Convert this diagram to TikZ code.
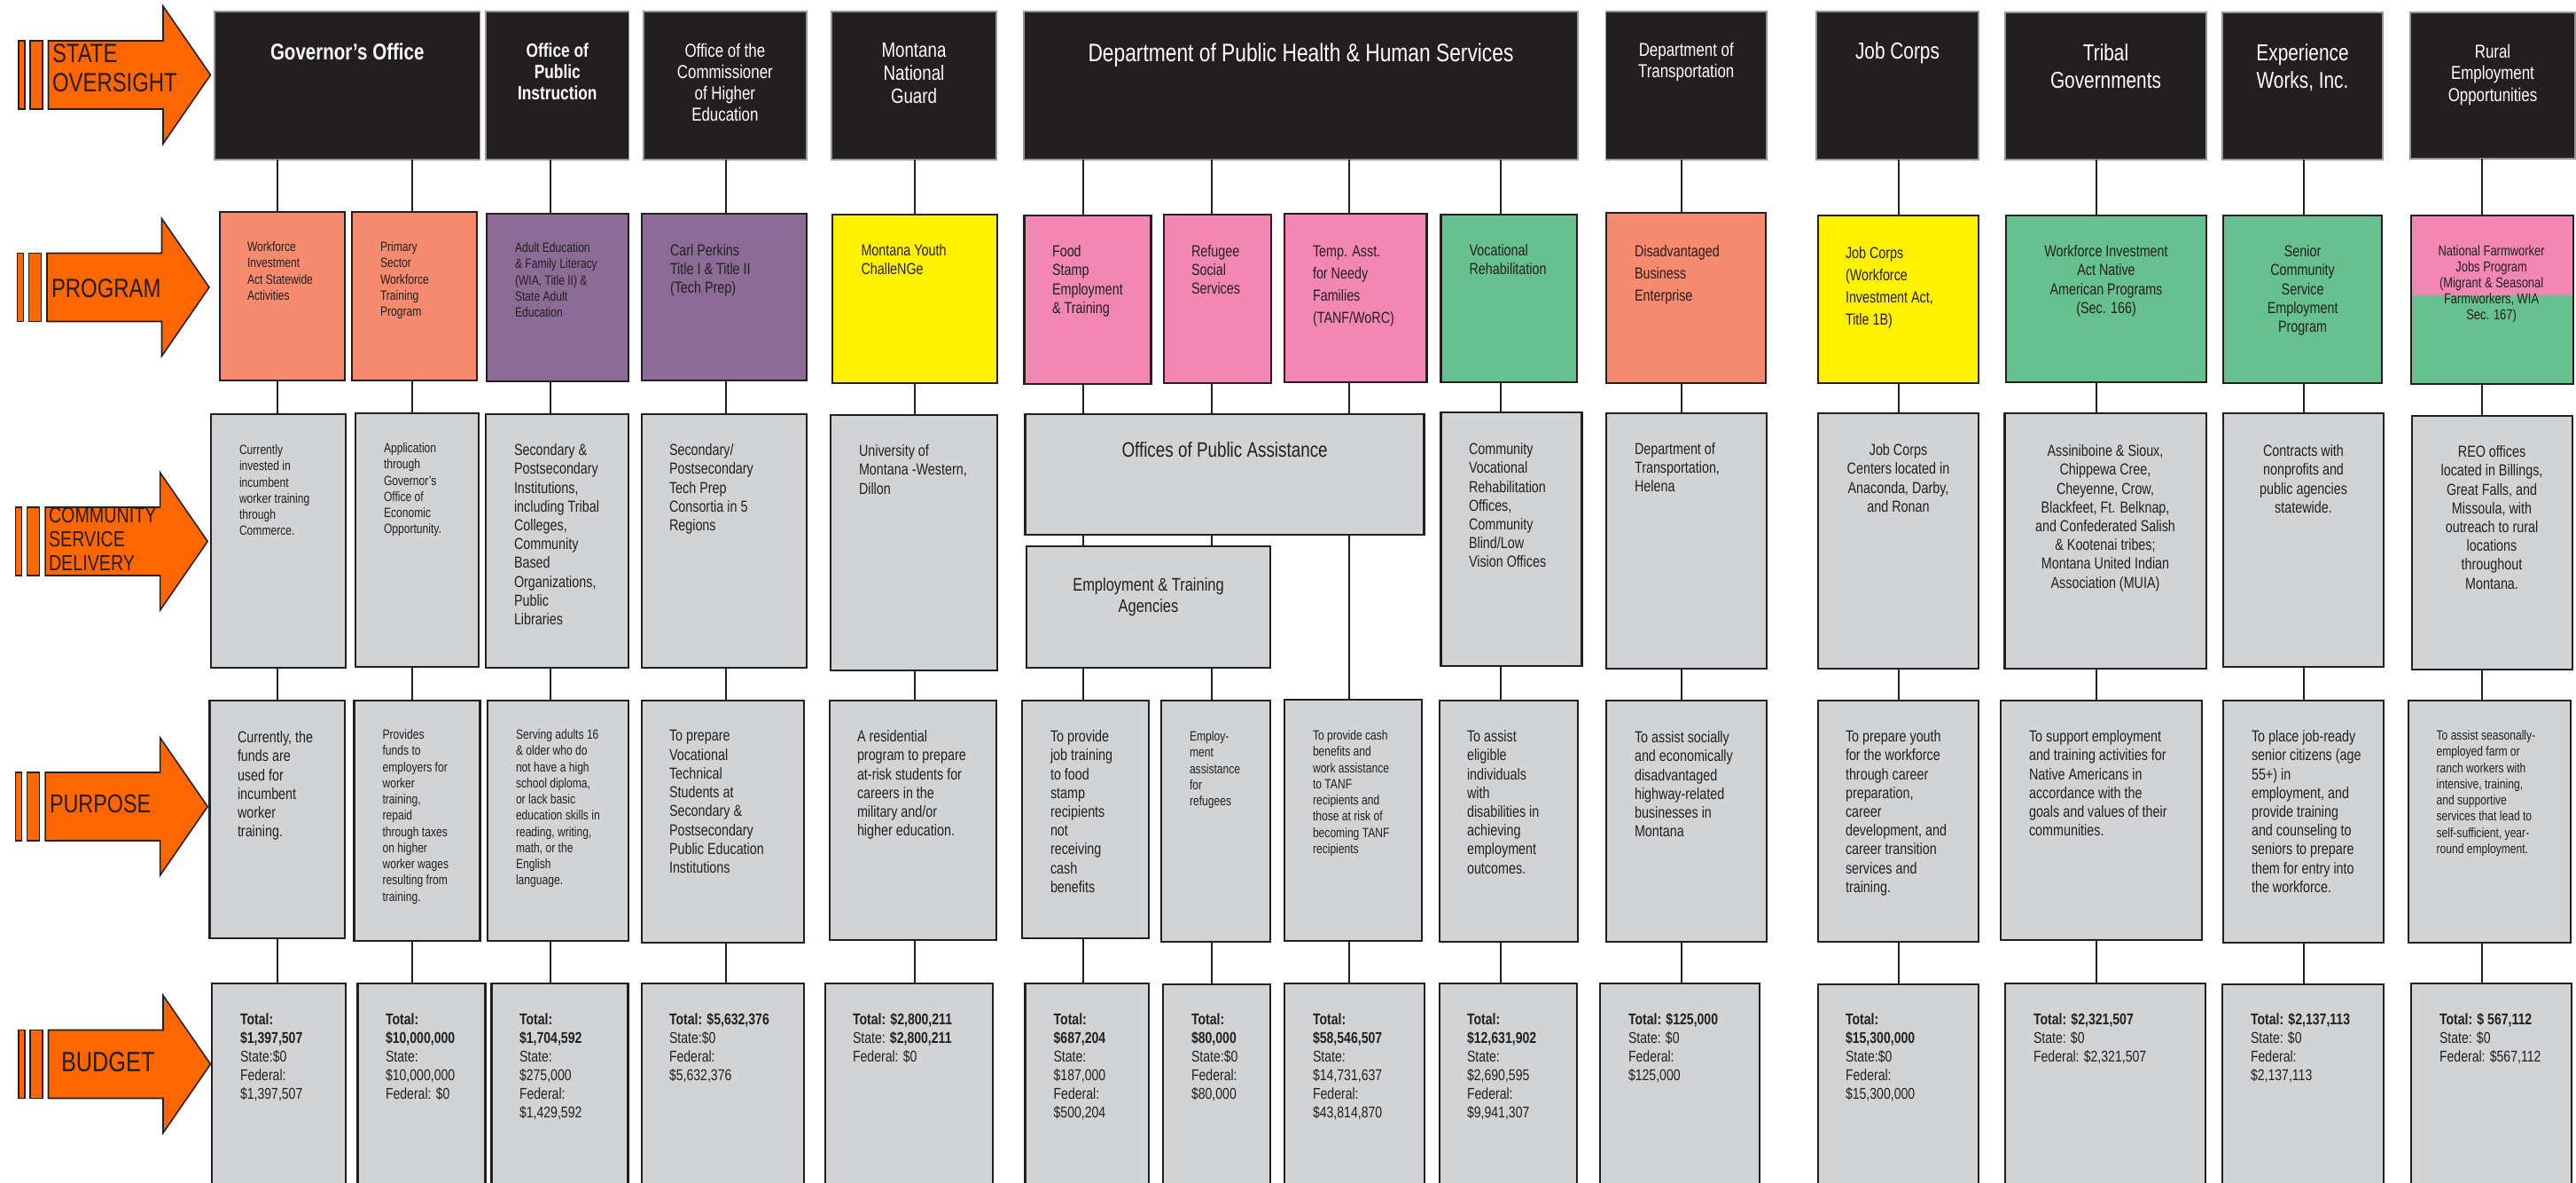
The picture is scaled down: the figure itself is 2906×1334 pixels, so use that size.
\documentclass[tikz,border=0pt]{standalone}
\usepackage{fontspec}
\setmainfont{Liberation Sans}[FakeStretch=0.8]
\usetikzlibrary{calc}
\definecolor{ora}{HTML}{FF6600}
\definecolor{ink}{HTML}{231F20}
\definecolor{salmon}{HTML}{F58A6E}
\definecolor{purp}{HTML}{8C6B96}
\definecolor{yel}{HTML}{FFF100}
\definecolor{pinkc}{HTML}{F287B3}
\definecolor{grn}{HTML}{66C18E}
\definecolor{gry}{HTML}{D1D3D4}
\definecolor{edge}{HTML}{939598}
\tikzset{
  topbox/.style={fill=ink, draw=edge, line width=0.5pt, inner sep=0pt, outer sep=0pt},
  pbox/.style={draw=ink, line width=0.75pt, inner sep=0pt, outer sep=0pt},
  gbox/.style={fill=gry, draw=ink, line width=0.75pt, inner sep=0pt, outer sep=0pt},
  link/.style={draw=ink, line width=0.55pt},
  arrowshape/.style={fill=ora, draw=ink, line width=0.45pt, line join=miter},
  tx/.style={inner sep=0pt, outer sep=0pt, text=ink, align=left, anchor=north west},
  ctr/.style={align=center, anchor=north},
  ttl/.style={inner sep=0pt, outer sep=0pt, text=white, align=center, anchor=north},
  lab/.style={inner sep=0pt, outer sep=0pt, text=ink, align=left, anchor=north west},
  ftS/.style={font=\fontsize{4.3}{5.19}\selectfont, yshift=1.55pt},
  ftM/.style={font=\fontsize{5.1}{6.04}\selectfont, yshift=1.84pt},
  ftP/.style={font=\fontsize{5.1}{7.1}\selectfont, yshift=1.84pt},
  ftN/.style={font=\fontsize{4.6}{5.1}\selectfont, yshift=1.66pt},
  ftB/.style={font=\fontsize{5.0}{5.95}\selectfont, yshift=1.8pt},
}
% box: style, name, x1, y1, x2, y2 (pixel coordinates, y downwards)
\newcommand\bx[6]{\node[#1, minimum width={(#5-#3)*0.01cm}, minimum height={(#6-#4)*0.01cm}] (#2) at ({(#3+#5)/2},{(#4+#6)/2}) {};}
% vertical connector from node #1 (south) to node #2 (north) at x = #3
\newcommand\lk[3]{\draw[link] (#1.south -| #3,0) -- (#2.north -| #3,0);}
% text node: style, name, x, y of first line centre, text
\newcommand\tb[5]{\node[tx,#1] (#2) at (#3,#4) {#5};}
% big orange arrow: x0, yc
\newcommand\bigarrow[2]{%
  \draw[arrowshape] (#1,{#2-38.5}) rectangle ({#1+7},{#2+38.5});
  \draw[arrowshape] ({#1+13},{#2-38.5}) rectangle ({#1+27},{#2+38.5});
  \draw[arrowshape] ({#1+33.5},{#2-38.5}) -- ({#1+163},{#2-38.5}) -- ({#1+163},{#2-77.5}) -- ({#1+216.5},#2) -- ({#1+163},{#2+77.5}) -- ({#1+163},{#2+38.5}) -- ({#1+33.5},{#2+38.5}) -- cycle;}
\begin{document}
\begin{tikzpicture}[x=0.01cm, y=-0.01cm]
\useasboundingbox (0,0) rectangle (2906,1334);
\clip (0,0) rectangle (2906,1334);
\fill[white] (0,0) rectangle (2906,1334);

% ---------- left arrows ----------
\bigarrow{21}{84.5}
\bigarrow{19.5}{324}
\bigarrow{17.7}{610.5}
\bigarrow{17.7}{909.5}
\bigarrow{21}{1200}
\node[lab, font=\fontsize{8.5}{9.6}\selectfont, yshift=3.06pt] (lso) at (59,60) {STATE\\OVERSIGHT};
\node[lab, font=\fontsize{8.5}{9.6}\selectfont, yshift=3.06pt] (lpr) at (58,325) {PROGRAM};
\node[lab, font=\fontsize{7}{7.65}\selectfont, yshift=2.52pt] (lcs) at (55,581) {COMMUNITY\\SERVICE\\DELIVERY};
\node[lab, font=\fontsize{8.3}{9}\selectfont, yshift=3pt] (lpu) at (56,907) {PURPOSE};
\node[lab, font=\fontsize{9}{10}\selectfont, yshift=3.24pt] (lbu) at (69,1198) {BUDGET};

% ---------- state oversight boxes ----------
\bx{topbox}{gov}{242}{13}{541.5}{180}
\bx{topbox}{opi}{548}{13}{709.6}{180}
\bx{topbox}{oche}{725.7}{13}{910}{180}
\bx{topbox}{mng}{938}{13}{1124}{180}
\bx{topbox}{dph}{1155}{13}{1780}{180}
\bx{topbox}{dot}{1811.5}{13}{1993}{180}
\bx{topbox}{jc}{2049}{13}{2232}{180}
\bx{topbox}{trb}{2262}{14}{2489}{180}
\bx{topbox}{ew}{2507}{14}{2688}{180}
\bx{topbox}{reo}{2719}{14}{2905}{179}

% ---------- program boxes ----------
\bx{pbox,fill=salmon}{pwia}{248}{239}{389}{429}
\bx{pbox,fill=salmon}{pps}{397}{239}{538}{429}
\bx{pbox,fill=purp}{pae}{549}{241}{709}{430}
\bx{pbox,fill=purp}{pcp}{724}{241}{910}{429}
\bx{pbox,fill=yel}{pmy}{939}{242}{1125}{432}
\bx{pbox,fill=pinkc}{pfs}{1155.6}{243}{1298.6}{433}
\bx{pbox,fill=pinkc}{pref}{1313}{242}{1434}{432}
\bx{pbox,fill=pinkc}{ptanf}{1449}{241}{1609.5}{431}
\bx{pbox,fill=grn}{pvr}{1625.5}{242}{1779}{431}
\bx{pbox,fill=salmon}{pdbe}{1812}{240}{1992}{432}
\bx{pbox,fill=yel}{pjc}{2051}{243}{2232}{432}
\bx{pbox,fill=grn}{ptrb}{2263}{243}{2489}{431}
\bx{pbox,fill=grn}{pew}{2508}{243}{2687}{432}
\bx{pbox,fill=grn}{preo}{2720}{243}{2903}{433}
\fill[pinkc] (preo.north west) rectangle (preo.east |- 0,333);
\draw[ink, line width=0.75pt] (preo.north west) rectangle (preo.south east);

% ---------- community service delivery ----------
\bx{gbox}{c1}{238}{467}{390}{753}
\bx{gbox}{c2}{401}{466}{540}{752}
\bx{gbox}{c3}{548}{467}{709}{753}
\bx{gbox}{coche}{724}{467}{910}{753}
\bx{gbox}{cmng}{937}{468}{1125}{756}
\bx{gbox}{copa}{1156.5}{467}{1606.7}{603}
\bx{gbox}{cet}{1158}{616}{1433}{753}
\bx{gbox}{cvr}{1625.5}{465}{1784.6}{751}
\bx{gbox}{cdot}{1812}{466}{1993}{754}
\bx{gbox}{cjc}{2051}{466}{2232}{754}
\bx{gbox}{ctrb}{2261.5}{466}{2489}{754}
\bx{gbox}{cew}{2508}{466}{2689}{752}
\bx{gbox}{creo}{2721}{469}{2902}{755}

% ---------- purpose ----------
\bx{gbox}{u1}{236.5}{790}{389}{1058}
\bx{gbox}{u2}{399.5}{790}{541.5}{1061}
\bx{gbox}{u3}{550}{790}{709}{1061}
\bx{gbox}{uoche}{724}{790}{907}{1063}
\bx{gbox}{umng}{936}{790}{1124}{1060}
\bx{gbox}{ufs}{1153}{790}{1296}{1058}
\bx{gbox}{uref}{1310}{790}{1433}{1062}
\bx{gbox}{utanf}{1449}{789}{1604}{1061}
\bx{gbox}{uvr}{1624}{790}{1780}{1062}
\bx{gbox}{udbe}{1812}{790}{1993}{1062}
\bx{gbox}{ujc}{2051}{790}{2232}{1062}
\bx{gbox}{utrb}{2257}{790}{2484}{1060}
\bx{gbox}{uew}{2508}{790}{2689}{1063}
\bx{gbox}{ureo}{2717}{790}{2900}{1063}

% ---------- budget ----------
\bx{gbox}{b1}{239}{1109}{390}{1345}
\bx{gbox}{b2}{403.7}{1109}{547.6}{1345}
\bx{gbox}{b3}{554.5}{1109}{708.6}{1345}
\bx{gbox}{boche}{724}{1109}{907}{1345}
\bx{gbox}{bmng}{931}{1109}{1120}{1345}
\bx{gbox}{bfs}{1156.5}{1109}{1296}{1345}
\bx{gbox}{bref}{1312}{1110}{1433}{1345}
\bx{gbox}{btanf}{1449}{1109}{1607}{1345}
\bx{gbox}{bvr}{1624}{1109}{1779}{1345}
\bx{gbox}{bdbe}{1805}{1109}{1985}{1345}
\bx{gbox}{bjc}{2051}{1110}{2232}{1345}
\bx{gbox}{btrb}{2262}{1109}{2488}{1345}
\bx{gbox}{bew}{2507}{1110}{2689}{1345}
\bx{gbox}{breo}{2720}{1109}{2901}{1345}

% ---------- connectors ----------
\lk{gov}{pwia}{313} \lk{gov}{pps}{465} \lk{opi}{pae}{620.6} \lk{oche}{pcp}{819}
\lk{mng}{pmy}{1032} \lk{dph}{pfs}{1222} \lk{dph}{pref}{1367} \lk{dph}{ptanf}{1522}
\lk{dph}{pvr}{1693} \lk{dot}{pdbe}{1897} \lk{jc}{pjc}{2142} \lk{trb}{ptrb}{2365}
\lk{ew}{pew}{2599} \lk{reo}{preo}{2800}

\lk{pwia}{c1}{313} \lk{pps}{c2}{465} \lk{pae}{c3}{620.6} \lk{pcp}{coche}{819}
\lk{pmy}{cmng}{1032} \lk{pfs}{copa}{1222} \lk{pref}{copa}{1367} \lk{ptanf}{copa}{1522}
\lk{pvr}{cvr}{1693} \lk{pdbe}{cdot}{1897} \lk{pjc}{cjc}{2142} \lk{ptrb}{ctrb}{2365}
\lk{pew}{cew}{2599} \lk{preo}{creo}{2800}
\lk{copa}{cet}{1222} \lk{copa}{cet}{1367}

\lk{c1}{u1}{313} \lk{c2}{u2}{465} \lk{c3}{u3}{620.6} \lk{coche}{uoche}{819}
\lk{cmng}{umng}{1032} \lk{cet}{ufs}{1222} \lk{cet}{uref}{1367} \lk{copa}{utanf}{1522}
\lk{cvr}{uvr}{1693} \lk{cdot}{udbe}{1897} \lk{cjc}{ujc}{2142} \lk{ctrb}{utrb}{2365}
\lk{cew}{uew}{2599} \lk{creo}{ureo}{2800}

\lk{u1}{b1}{313} \lk{u2}{b2}{465} \lk{u3}{b3}{620.6} \lk{uoche}{boche}{819}
\lk{umng}{bmng}{1032} \lk{ufs}{bfs}{1222} \lk{uref}{bref}{1367} \lk{utanf}{btanf}{1522}
\lk{uvr}{bvr}{1693} \lk{udbe}{bdbe}{1897} \lk{ujc}{bjc}{2142} \lk{utrb}{btrb}{2365}
\lk{uew}{bew}{2599} \lk{ureo}{breo}{2800}

% ---------- titles ----------
\node[ttl, font=\bfseries\fontsize{7.3}{8.8}\selectfont, yshift=2.63pt] (tgov) at (gov |- 0,58) {Governor's Office};
\node[ttl, font=\bfseries\fontsize{6.15}{6.8}\selectfont, yshift=2.2pt] (topi) at (opi |- 0,57) {Office of\\Public\\Instruction};
\node[ttl, font=\fontsize{6.0}{6.8}\selectfont, yshift=2.16pt] (toche) at (oche |- 0,57) {Office of the\\Commissioner\\of Higher\\Education};
\node[ttl, font=\fontsize{6.65}{7.37}\selectfont, yshift=2.4pt] (tmng) at (mng |- 0,57) {Montana\\National\\Guard};
\node[ttl, font=\fontsize{8.1}{9}\selectfont, yshift=2.9pt] (tdph) at (dph |- 0,59) {Department of Public Health \& Human Services};
\node[ttl, font=\fontsize{6.0}{6.8}\selectfont, yshift=2.16pt] (tdot) at (dot |- 0,56) {Department of\\Transportation};
\node[ttl, font=\fontsize{7.4}{8.8}\selectfont, yshift=2.66pt] (tjc) at (jc |- 0,57) {Job Corps};
\node[ttl, font=\fontsize{7.4}{8.8}\selectfont, yshift=2.66pt] (ttrb) at (trb |- 0,59) {Tribal\\Governments};
\node[ttl, font=\fontsize{7.4}{8.8}\selectfont, yshift=2.66pt] (tew) at (ew |- 0,59) {Experience\\Works, Inc.};
\node[ttl, font=\fontsize{6.0}{6.9}\selectfont, yshift=2.16pt] (treo) at (reo |- 0,58) {Rural\\Employment\\Opportunities};

% ---------- program texts ----------
\tb{ftS}{xwia}{279}{278}{Workforce\\Investment\\Act Statewide\\Activities}
\tb{ftS}{xps}{429}{278}{Primary\\Sector\\Workforce\\Training\\Program}
\tb{ftS}{xae}{581}{279}{Adult Education\\\& Family Literacy\\(WIA, Title II) \&\\State Adult\\Education}
\tb{ftM}{xcp}{756}{282}{Carl Perkins\\Title I \& Title II\\(Tech Prep)}
\tb{ftM}{xmy}{971.5}{282}{Montana Youth\\ChalleNGe}
\tb{ftM}{xfs}{1187}{283}{Food\\Stamp\\Employment\\\& Training}
\tb{ftM}{xref}{1344}{283}{Refugee\\Social\\Services}
\tb{ftP}{xtanf}{1481}{284}{Temp. Asst.\\for Needy\\Families\\(TANF/WoRC)}
\tb{ftM}{xvr}{1657.6}{282}{Vocational\\Rehabilitation}
\tb{ftP}{xdbe}{1844}{283}{Disadvantaged\\Business\\Enterprise}
\tb{ftP}{xjc}{2082}{285}{Job Corps\\(Workforce\\Investment Act,\\Title 1B)}
\tb{ctr,ftM}{xtrb}{2376}{283}{Workforce Investment\\Act Native\\American Programs\\(Sec. 166)}
\tb{ctr,ftM}{xew}{2597.6}{283}{Senior\\Community\\Service\\Employment\\Program}
\tb{ctr,ftN}{xreo}{2810.6}{283}{National Farmworker\\Jobs Program\\(Migrant \& Seasonal\\Farmworkers, WIA\\Sec. 167)}

% ---------- community service texts ----------
\tb{ftS}{yc1}{270}{507}{Currently\\invested in\\incumbent\\worker training\\through\\Commerce.}
\tb{ftS}{yc2}{433}{505}{Application\\through\\Governor's\\Office of\\Economic\\Opportunity.}
\tb{ftM}{yc3}{580}{507}{Secondary \&\\Postsecondary\\Institutions,\\including Tribal\\Colleges,\\Community\\Based\\Organizations,\\Public\\Libraries}
\tb{ftM}{yoche}{755}{507}{Secondary/\\Postsecondary\\Tech Prep\\Consortia in 5\\Regions}
\tb{ftM}{ymng}{969}{508}{University of\\Montana -Western,\\Dillon}
\node[tx, ctr, font=\fontsize{6.7}{8}\selectfont, yshift=2.41pt] (yopa) at (copa |- 0,507) {Offices of Public Assistance};
\node[tx, ctr, font=\fontsize{5.85}{6.8}\selectfont, yshift=2.1pt] (yet) at (cet |- 0,659) {Employment \& Training\\Agencies};
\tb{ftM}{yvr}{1657}{506}{Community\\Vocational\\Rehabilitation\\Offices,\\Community\\Blind/Low\\Vision Offices}
\tb{ftM}{ydot}{1844}{506}{Department of\\Transportation,\\Helena}
\tb{ctr,ftM}{yjc}{2141.5}{507}{Job Corps\\Centers located in\\Anaconda, Darby,\\and Ronan}
\tb{ctr,ftM}{ytrb}{2375}{508}{Assiniboine \& Sioux,\\Chippewa Cree,\\Cheyenne, Crow,\\Blackfeet, Ft. Belknap,\\and Confederated Salish\\\& Kootenai tribes;\\Montana United Indian\\Association (MUIA)}
\tb{ctr,ftM}{yew}{2598.5}{508}{Contracts with\\nonprofits and\\public agencies\\statewide.}
\tb{ctr,ftM}{yreo}{2811}{509}{REO offices\\located in Billings,\\Great Falls, and\\Missoula, with\\outreach to rural\\locations\\throughout\\Montana.}

% ---------- purpose texts ----------
\tb{ftM}{zu1}{268}{831}{Currently, the\\funds are\\used for\\incumbent\\worker\\training.}
\tb{ftS}{zu2}{431.6}{828}{Provides\\funds to\\employers for\\worker\\training,\\repaid\\through taxes\\on higher\\worker wages\\resulting from\\training.}
\tb{ftS}{zu3}{582}{828}{Serving adults 16\\\& older who do\\not have a high\\school diploma,\\or lack basic\\education skills in\\reading, writing,\\math, or the\\English\\language.}
\tb{ftM}{zoche}{755}{830}{To prepare\\Vocational\\Technical\\Students at\\Secondary \&\\Postsecondary\\Public Education\\Institutions}
\tb{ftM}{zmng}{967}{830}{A residential\\program to prepare\\at-risk students for\\careers in the\\military and/or\\higher education.}
\tb{ftM}{zfs}{1185}{830}{To provide\\job training\\to food\\stamp\\recipients\\not\\receiving\\cash\\benefits}
\tb{ftS}{zref}{1342}{830}{Employ-\\ment\\assistance\\for\\refugees}
\tb{ftS}{ztanf}{1481}{829}{To provide cash\\benefits and\\work assistance\\to TANF\\recipients and\\those at risk of\\becoming TANF\\recipients}
\tb{ftM}{zvr}{1655}{830}{To assist\\eligible\\individuals\\with\\disabilities in\\achieving\\employment\\outcomes.}
\tb{ftM}{zdbe}{1844}{831}{To assist socially\\and economically\\disadvantaged\\highway-related\\businesses in\\Montana}
\tb{ftM}{zjc}{2082}{830}{To prepare youth\\for the workforce\\through career\\preparation,\\career\\development, and\\career transition\\services and\\training.}
\tb{ftM}{ztrb}{2289}{830}{To support employment\\and training activities for\\Native Americans in\\accordance with the\\goals and values of their\\communities.}
\tb{ftM}{zew}{2540}{830}{To place job-ready\\senior citizens (age\\55+) in\\employment, and\\provide training\\and counseling to\\seniors to prepare\\them for entry into\\the workforce.}
\tb{ftS}{zreo}{2748.6}{829}{To assist seasonally-\\employed farm or\\ranch workers with\\intensive, training,\\and supportive\\services that lead to\\self-sufficient, year-\\round employment.}

% ---------- budget texts ----------
\tb{ftB}{wb1}{271}{1149}{\textbf{Total:}\\\textbf{\$1,397,507}\\State:\$0\\Federal:\\\$1,397,507}
\tb{ftB}{wb2}{435}{1149}{\textbf{Total:}\\\textbf{\$10,000,000}\\State:\\\$10,000,000\\Federal: \$0}
\tb{ftB}{wb3}{586}{1149}{\textbf{Total:}\\\textbf{\$1,704,592}\\State:\\\$275,000\\Federal:\\\$1,429,592}
\tb{ftB}{wboche}{755}{1149}{\textbf{Total: \$5,632,376}\\State:\$0\\Federal:\\\$5,632,376}
\tb{ftB}{wbmng}{962}{1149}{\textbf{Total: \$2,800,211}\\State: \textbf{\$2,800,211}\\Federal: \$0}
\tb{ftB}{wbfs}{1188.6}{1149}{\textbf{Total:}\\\textbf{\$687,204}\\State:\\\$187,000\\Federal:\\\$500,204}
\tb{ftB}{wbref}{1344}{1149}{\textbf{Total:}\\\textbf{\$80,000}\\State:\$0\\Federal:\\\$80,000}
\tb{ftB}{wbtanf}{1481}{1149}{\textbf{Total:}\\\textbf{\$58,546,507}\\State:\\\$14,731,637\\Federal:\\\$43,814,870}
\tb{ftB}{wbvr}{1655}{1149}{\textbf{Total:}\\\textbf{\$12,631,902}\\State:\\\$2,690,595\\Federal:\\\$9,941,307}
\tb{ftB}{wbdbe}{1837}{1149}{\textbf{Total: \$125,000}\\State: \$0\\Federal:\\\$125,000}
\tb{ftB}{wbjc}{2082}{1149}{\textbf{Total:}\\\textbf{\$15,300,000}\\State:\$0\\Federal:\\\$15,300,000}
\tb{ftB}{wbtrb}{2294}{1149}{\textbf{Total: \$2,321,507}\\State: \$0\\Federal: \$2,321,507}
\tb{ftB}{wbew}{2539}{1149}{\textbf{Total: \$2,137,113}\\State: \$0\\Federal:\\\$2,137,113}
\tb{ftB}{wbreo}{2752}{1149}{\textbf{Total: \$ 567,112}\\State: \$0\\Federal: \$567,112}
\end{tikzpicture}
\end{document}
